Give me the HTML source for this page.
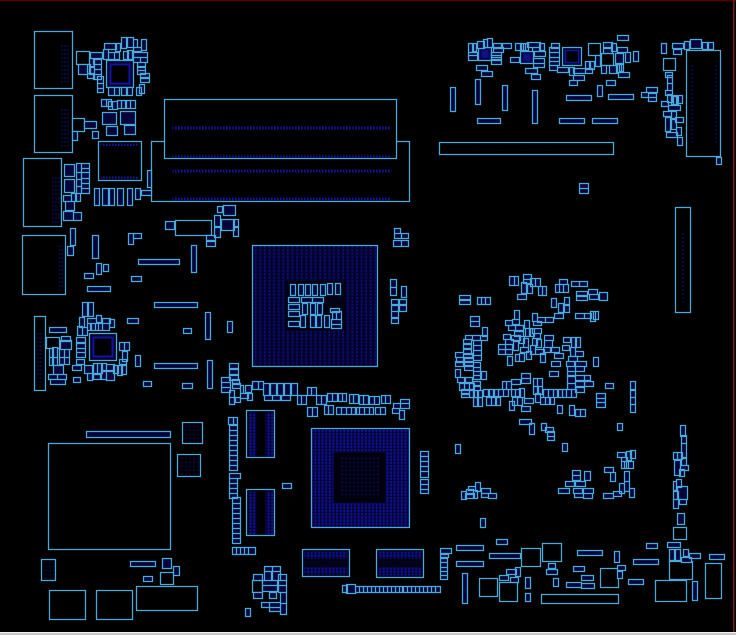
<!DOCTYPE html>
<html><head><meta charset="utf-8"><title>Board view</title>
<style>html,body{margin:0;padding:0;background:#000;width:736px;height:635px;overflow:hidden}svg{display:block}</style></head>
<body>
<svg width="736" height="635" viewBox="0 0 736 635" xmlns="http://www.w3.org/2000/svg" font-family="Liberation Sans, sans-serif">
<defs>
<pattern id="bga" width="4.6" height="3.4" patternUnits="userSpaceOnUse"><rect width="4.6" height="3.4" fill="#03032c"/><rect x="1.4" y=".6" width="1.6" height="2.2" fill="#0e0e80"/></pattern>
<pattern id="bga2" width="3.6" height="3.2" patternUnits="userSpaceOnUse"><rect width="3.6" height="3.2" fill="#040438"/><rect x=".8" y=".5" width="1.8" height="2.2" fill="#12129c"/></pattern>
<pattern id="bga3" width="4" height="4" patternUnits="userSpaceOnUse"><rect x="1" y="1" width="1.2" height="2" fill="#0c0c66"/></pattern>
<pattern id="rowp" width="3" height="2" patternUnits="userSpaceOnUse"><rect x=".5" y="0" width="1.6" height="2" fill="#12129a"/></pattern>
<pattern id="colp" width="3" height="4" patternUnits="userSpaceOnUse"><rect x="1" y=".5" width="1" height="2" fill="#0c0c70"/></pattern>
</defs>
<rect width="736" height="635" fill="#000"/>
<g transform="translate(.5 .5)" stroke="#4caad8" stroke-width="1.25" fill="#000">
<!-- large outlines -->
<path d="M34 31h38v57h-38zM34 95h38v57h-38zM23 158h38v68h-38zM22 235h43v59h-43zM34 316h11v74h-11zM98 141h43v39h-43zM48 443h122v106h-122zM151 141h258v60h-258z"/>
<path d="M164 99h232v59h-232zM686 50h34v106h-34zM439 142h174v12h-174zM675 207h15v105h-15zM175 220h36v15h-36zM49 590h36v29h-36zM96 590h36v29h-36zM136 586h61v24h-61zM182 422h20v21h-20zM177 454h23v22h-23zM705 563h16v35h-16zM655 580h31v21h-31zM669 561h23v18h-23zM541 594h77v9h-77zM479 578h18v18h-18zM499 582h18v19h-18zM521 548h19v18h-19zM542 543h19v18h-19zM600 568h18v19h-18zM663 58h12v12h-12zM673 527h13v12h-13zM588 43h12v12h-12zM601 53h12v12h-12zM41 559h14v21h-14zM252 580h10v12h-10zM327 295h12v12h-12zM72 118h12v13h-12zM160 572h13v12h-13zM46 337h13v11h-13zM76 51h13v13h-13z"/>
<g stroke="none">
<rect x="172" y="126" width="218" height="3" fill="url(#rowp)"/><rect x="172" y="155" width="218" height="2.5" fill="url(#rowp)"/><rect x="172" y="169" width="218" height="3" fill="url(#rowp)"/><rect x="172" y="197" width="218" height="3" fill="url(#rowp)"/>
<rect x="60" y="44" width="9" height="40" fill="url(#colp)"/><rect x="60" y="108" width="9" height="40" fill="url(#colp)"/><rect x="50" y="175" width="9" height="48" fill="url(#colp)"/><rect x="56" y="245" width="7" height="45" fill="url(#colp)"/><rect x="36" y="332" width="7" height="50" fill="url(#colp)"/>
<rect x="100" y="143" width="38" height="2.5" fill="url(#rowp)"/><rect x="100" y="176" width="38" height="2.5" fill="url(#rowp)"/>
<rect x="689" y="62" width="3" height="80" fill="url(#colp)"/><rect x="714" y="62" width="3" height="80" fill="url(#colp)"/><rect x="680" y="230" width="3" height="72" fill="url(#colp)"/>
<rect x="468" y="150" width="95" height="2" fill="url(#colp)"/>
<rect x="183" y="424" width="18" height="18" fill="url(#bga3)"/><rect x="178" y="456" width="21" height="19" fill="url(#bga3)"/><rect x="42" y="561" width="12" height="18" fill="url(#bga3)"/>
</g>
<!-- CPU socket -->
<rect x="252" y="245" width="125" height="121" fill="url(#bga)"/>
<rect x="285" y="280" width="60" height="50" fill="#020214" stroke="none"/>
<!-- GPU -->
<rect x="311" y="428" width="98" height="99" fill="url(#bga2)"/>
<rect x="333" y="452" width="52" height="50" fill="#01010d" stroke="none"/>
<rect x="339" y="457" width="41" height="40" fill="url(#bga3)" stroke="none"/>
<!-- memory chips -->
<rect x="246" y="410" width="28" height="47" fill="#000"/><rect x="248" y="412" width="8" height="44" fill="url(#bga2)" stroke="none"/><rect x="265" y="412" width="8" height="44" fill="url(#bga2)" stroke="none"/>
<rect x="246" y="489" width="28" height="46" fill="#000"/><rect x="248" y="491" width="8" height="43" fill="url(#bga2)" stroke="none"/><rect x="265" y="491" width="8" height="43" fill="url(#bga2)" stroke="none"/>
<rect x="302" y="549" width="47" height="27" fill="#020218"/><rect x="304" y="551" width="43" height="7" fill="url(#bga2)" stroke="none"/><rect x="304" y="567" width="43" height="7" fill="url(#bga2)" stroke="none"/>
<rect x="376" y="549" width="47" height="28" fill="#020218"/><rect x="378" y="551" width="43" height="7" fill="url(#bga2)" stroke="none"/><rect x="378" y="567" width="43" height="8" fill="url(#bga2)" stroke="none"/>
<!-- small ICs -->
<rect x="106" y="60" width="27" height="27" fill="#04042c"/><rect x="110" y="64" width="19" height="19" fill="#000" stroke="#1212a0" stroke-width="2"/>
<rect x="89" y="333" width="27" height="27" fill="#04042c"/><rect x="93" y="337" width="19" height="19" fill="#000" stroke="#1212a0" stroke-width="2"/>
<rect x="562" y="47" width="19" height="18" fill="#04042c"/><rect x="565" y="50" width="13" height="12" fill="#000" stroke="#1212a0" stroke-width="1.5"/>
<rect x="478" y="47" width="13" height="13" fill="#06064c"/><rect x="481" y="50" width="7" height="7" fill="#10108a" stroke="none"/>
<rect x="520" y="51" width="13" height="12" fill="#06064c"/><rect x="523" y="54" width="7" height="6" fill="#10108a" stroke="none"/>
<!-- small parts -->
<path fill="#05053c" d="M78 64h9v10h-9zM87 64h3v9h-3zM104 43h12v6h-12zM121 37h5v11h-5zM127 37h6v10h-6zM133 39h4v8h-4zM141 39h5v11h-5zM90 52h12v6h-12zM103 49h5v10h-5zM108 52h6v7h-6zM114 52h5v7h-5zM115 43h5v8h-5zM123 51h5v8h-5zM127 50h5v9h-5zM133 47h8v4h-8zM133 52h14v5h-14zM133 57h7v5h-7zM140 57h7v5h-7zM137 62h8v5h-8zM137 66h8v4h-8zM137 70h8v4h-8zM140 73h9v5h-9zM140 77h9v5h-9zM139 84h5v9h-5zM136 87h5v8h-5zM89 58h5v8h-5zM93 59h8v5h-8zM89 67h5v7h-5zM94 64h7v5h-7zM94 69h7v5h-7zM87 73h7v5h-7zM93 74h8v5h-8zM97 76h6v7h-6zM97 83h6v5h-6zM97 88h6v4h-6zM108 87h6v8h-6zM114 87h5v8h-5zM121 87h5v8h-5zM127 87h5v8h-5z"/>
<path fill="#05053c" d="M101 99h5v7h-5zM106 99h5v7h-5zM108 101h4v8h-4zM112 101h5v8h-5zM117 100h4v8h-4zM121 100h5v8h-5zM125 100h5v8h-5zM130 100h5v8h-5zM102 112h14v12h-14zM120 111h15v13h-15zM106 126h11v9h-11zM124 125h11v9h-11zM84 121h12v7h-12zM72 131h5v9h-5zM92 131h6v7h-6zM64 164h10v12h-10zM64 179h10v13h-10zM76 163h5v9h-5zM81 163h8v5h-8zM76 172h5v7h-5zM81 168h8v4h-8zM81 172h8v6h-8zM76 179h5v7h-5zM81 178h8v5h-8zM81 183h8v5h-8zM76 186h5v7h-5zM81 188h8v5h-8zM63 195h8v6h-8zM71 193h5v8h-5zM75 193h5v8h-5zM65 201h9v9h-9zM63 211h10v9h-10zM73 212h8v8h-8zM94 188h5v17h-5zM102 188h6v17h-6zM109 188h5v17h-5zM117 188h6v17h-6zM127 188h5v17h-5zM135 188h5v11h-5zM141 190h10v5h-10zM147 170h4v17h-4z"/>
<path fill="#05053c" d="M70 228h5v17h-5zM67 246h6v9h-6zM92 235h6v23h-6zM96 263h5v11h-5zM103 264h5v7h-5zM84 273h9v5h-9zM87 286h23v5h-23zM82 302h5v14h-5zM88 302h5v14h-5zM79 317h5v10h-5zM87 318h9v5h-9zM96 315h5v7h-5zM102 318h8v5h-8zM109 319h5v8h-5zM77 326h5v9h-5zM82 327h5v8h-5zM87 323h4v7h-4zM90 323h5v7h-5zM95 323h3v7h-3zM98 323h4v7h-4zM102 323h7v7h-7zM49 327h17v5h-17zM61 336h9v5h-9zM60 340h11v9h-11zM76 337h9v5h-9zM76 343h9v5h-9zM76 348h9v4h-9zM76 352h9v5h-9zM119 342h5v8h-5zM124 342h5v8h-5zM122 351h5v10h-5zM49 348h4v9h-4zM52 347h5v10h-5zM59 349h5v8h-5zM64 349h5v8h-5zM49 357h4v8h-4zM52 357h5v8h-5zM59 357h5v7h-5zM64 357h5v7h-5zM53 365h10v9h-10zM48 374h9v5h-9zM57 374h9v5h-9zM50 379h15v5h-15zM76 359h8v5h-8zM72 365h9v5h-9zM84 365h8v8h-8zM93 363h4v10h-4zM97 363h5v10h-5zM101 363h5v7h-5zM106 364h8v6h-8zM87 373h5v7h-5zM93 374h7v5h-7zM101 371h5v8h-5zM106 371h8v9h-8zM113 365h5v8h-5zM117 365h5v10h-5zM121 365h5v9h-5zM119 359h7v5h-7zM73 377h7v5h-7zM127 318h11v5h-11zM135 355h5v11h-5zM143 381h8v5h-8zM182 383h10v5h-10zM183 328h8v5h-8zM227 321h5v11h-5zM205 312h5v27h-5zM207 360h5v28h-5zM154 302h43v5h-43zM154 363h43v5h-43zM138 259h41v5h-41zM191 245h5v27h-5zM131 276h10v5h-10zM128 233h5v11h-5zM133 233h8v5h-8zM165 221h9v8h-9zM206 235h9v5h-9zM206 241h9v5h-9zM214 215h6v11h-6zM214 227h6v10h-6zM221 219h13v11h-13zM233 219h5v7h-5zM233 227h5v9h-5zM223 205h12v10h-12zM217 206h5v6h-5zM229 363h9v5h-9zM229 369h9v5h-9zM229 375h9v5h-9zM221 377h9v5h-9zM221 382h9v5h-9zM221 387h9v5h-9zM232 379h7v5h-7zM232 383h8v5h-8zM229 390h5v7h-5zM229 397h5v7h-5zM235 397h5v5h-5z"/>
<path fill="#05053c" d="M86 431h84v6h-84zM162 558h9v10h-9zM173 566h6v9h-6zM130 561h25v5h-25zM143 576h9v5h-9z"/>
<path fill="#05053c" d="M228 417h5v7h-5zM233 417h4v7h-4zM229 425h8v5h-8zM229 430h8v5h-8zM229 435h8v5h-8zM229 440h8v5h-8zM229 445h8v5h-8zM229 450h8v5h-8zM229 455h8v5h-8zM229 460h8v5h-8zM229 465h8v5h-8zM229 473h11v5h-11zM229 478h8v5h-8zM229 483h8v5h-8zM229 488h8v5h-8zM229 493h8v5h-8zM232 497h8v6h-8zM232 503h8v5h-8zM232 508h8v5h-8zM232 513h8v5h-8zM232 518h8v5h-8zM232 523h8v5h-8zM232 528h8v5h-8zM232 533h8v5h-8zM232 538h8v5h-8zM232 547h4v7h-4zM236 547h4v7h-4zM240 547h4v7h-4zM244 547h4v7h-4zM248 547h7v7h-7z"/>
<path fill="#05053c" d="M264 566h8v5h-8zM272 566h8v5h-8zM253 574h9v6h-9zM264 571h7v9h-7zM272 571h8v9h-8zM278 574h8v6h-8zM262 580h15v5h-15zM262 585h15v6h-15zM278 580h8v5h-8zM278 585h8v7h-8zM253 592h9v6h-9zM269 592h7v6h-7zM280 592h6v11h-6zM280 603h6v11h-6zM261 602h8v5h-8zM269 602h11v5h-11zM269 607h11v4h-11zM245 608h5v8h-5zM282 483h9v5h-9zM420 451h8v5h-8zM420 456h8v5h-8zM420 461h8v5h-8zM420 466h8v5h-8zM420 471h8v6h-8zM420 479h8v5h-8zM420 484h8v5h-8zM420 489h8v4h-8z"/>
<path fill="#05053c" d="M342 585h5v7h-5zM346 584h9v9h-9zM355 586h4v6h-4zM359 586h4v6h-4zM363 586h4v6h-4zM367 586h4v6h-4zM371 586h4v6h-4zM375 586h4v6h-4zM379 586h4v6h-4zM383 586h4v6h-4zM387 586h4v6h-4zM391 586h4v6h-4zM395 586h4v6h-4zM399 586h3v6h-3zM403 586h4v6h-4zM407 586h4v6h-4zM411 586h4v6h-4zM415 586h4v6h-4zM419 586h4v6h-4zM423 586h4v6h-4zM427 586h4v6h-4zM431 586h4v6h-4zM435 586h5v6h-5z"/>
<path fill="#05053c" d="M252 381h6v8h-6zM258 381h5v8h-5zM263 383h6v12h-6zM270 383h6v12h-6zM277 383h6v12h-6zM284 383h6v12h-6zM291 383h6v12h-6zM264 395h8v5h-8zM272 395h8v5h-8zM281 395h9v5h-9zM297 395h4v9h-4zM301 395h5v9h-5zM307 387h4v8h-4zM311 387h5v8h-5zM316 395h5v9h-5zM321 395h5v9h-5zM327 393h5v8h-5zM332 393h5v8h-5zM338 393h4v8h-4zM342 393h4v8h-4zM349 394h4v9h-4zM353 394h5v9h-5zM359 395h4v9h-4zM363 395h5v9h-5zM369 396h5v8h-5zM374 396h5v8h-5zM381 395h4v8h-4zM385 395h5v8h-5zM307 407h5v9h-5zM312 407h5v9h-5zM324 405h4v9h-4zM328 405h5v9h-5zM336 407h5v7h-5zM341 407h5v7h-5zM346 407h5v7h-5zM351 407h5v7h-5zM355 407h4v7h-4zM359 407h5v7h-5zM364 407h5v7h-5zM369 407h4v7h-4zM375 407h5v7h-5zM380 407h5v7h-5zM400 399h9v4h-9zM400 403h9v5h-9zM393 403h7v5h-7zM392 408h7v5h-7zM399 410h5v9h-5zM245 385h6v7h-6zM240 393h8v5h-8zM247 393h5v7h-5zM240 385h3v8h-3z"/>
<path fill="#05053c" d="M290 284h5v11h-5zM298 284h5v11h-5zM305 284h5v11h-5zM312 284h5v11h-5zM320 284h5v11h-5zM327 283h5v11h-5zM335 283h5v11h-5zM288 297h11v5h-11zM288 304h11v5h-11zM288 311h11v5h-11zM288 321h11v5h-11zM301 297h11v5h-11zM312 297h11v5h-11zM330 308h9v4h-9zM302 303h5v11h-5zM310 303h5v11h-5zM317 303h5v11h-5zM332 311h4v8h-4zM336 311h5v8h-5zM300 315h5v12h-5zM310 315h5v12h-5zM316 315h5v12h-5zM324 315h5v12h-5zM331 319h10v5h-10zM331 324h10v4h-10zM394 228h6v5h-6zM394 233h7v5h-7zM401 233h7v5h-7zM393 240h8v6h-8zM401 240h7v6h-7zM390 279h6v8h-6zM390 287h6v8h-6zM401 286h5v11h-5zM391 299h7v5h-7zM399 299h7v5h-7zM391 305h7v6h-7zM399 305h7v6h-7zM391 311h7v7h-7zM391 317h7v6h-7z"/>
<path fill="#05053c" d="M509 276h5v9h-5zM514 276h4v9h-4zM523 274h8v5h-8zM523 279h8v4h-8zM521 282h5v11h-5zM527 284h5v9h-5zM530 278h5v8h-5zM535 278h5v8h-5zM538 286h4v9h-4zM542 286h4v9h-4zM517 294h9v5h-9zM559 279h8v5h-8zM555 284h4v8h-4zM559 284h4v8h-4zM563 284h5v8h-5zM571 281h8v5h-8zM579 281h8v5h-8zM576 291h11v5h-11zM576 295h11v5h-11zM588 289h9v5h-9zM589 294h9v5h-9zM599 292h8v8h-8zM459 295h11v5h-11zM459 299h11v5h-11zM477 297h4v7h-4zM481 297h4v7h-4zM485 297h5v7h-5zM551 298h5v9h-5zM564 297h5v8h-5zM564 304h5v8h-5zM558 303h5v9h-5zM575 313h9v5h-9zM584 313h7v5h-7zM590 311h5v10h-5zM593 311h5v8h-5zM470 316h9v5h-9zM470 321h9v5h-9zM482 327h5v9h-5zM480 335h7v5h-7zM465 335h7v5h-7zM472 335h8v5h-8zM514 310h5v9h-5zM505 320h7v5h-7zM512 319h7v5h-7zM508 325h7v5h-7zM515 325h8v5h-8zM514 331h9v5h-9zM511 335h9v5h-9zM503 334h7v5h-7zM505 339h8v5h-8zM519 336h5v7h-5zM513 341h5v9h-5zM523 338h5v9h-5zM524 320h5v8h-5zM525 328h5v8h-5zM529 328h5v8h-5zM532 313h5v8h-5zM533 321h8v4h-8zM537 317h8v5h-8zM545 317h8v5h-8zM554 313h9v5h-9zM532 328h9v5h-9zM533 333h7v5h-7zM532 338h5v7h-5zM536 339h5v8h-5zM544 335h9v5h-9zM544 340h8v7h-8zM498 344h7v5h-7zM505 344h7v5h-7zM498 349h7v5h-7zM505 349h7v5h-7zM520 347h8v5h-8zM530 345h5v9h-5zM535 349h9v5h-9zM543 347h7v5h-7zM551 347h8v5h-8zM526 351h5v8h-5zM515 354h4v7h-4zM519 353h5v8h-5zM507 356h5v9h-5zM540 353h5v9h-5zM554 353h9v5h-9zM551 361h9v5h-9zM563 337h7v5h-7zM562 345h7v5h-7zM571 337h5v10h-5zM575 337h5v10h-5zM570 347h5v9h-5zM575 351h8v5h-8zM549 371h9v5h-9zM521 373h9v5h-9zM521 378h9v5h-9zM511 379h9v5h-9zM593 357h5v9h-5zM583 375h7v5h-7zM584 381h9v5h-9zM605 383h8v5h-8z"/>
<path fill="#05053c" d="M568 356h9v5h-9zM566 361h8v5h-8zM575 361h11v5h-11zM567 366h8v5h-8zM575 366h9v5h-9zM567 371h8v5h-8zM567 375h8v8h-8zM575 375h9v5h-9zM567 383h8v6h-8zM575 381h9v5h-9zM575 387h9v5h-9zM483 389h5v7h-5zM489 389h5v7h-5zM493 389h5v7h-5zM498 389h5v7h-5zM503 389h5v7h-5zM502 381h4v8h-4zM506 381h5v8h-5zM511 389h4v7h-4zM515 389h5v7h-5zM519 388h5v9h-5zM543 389h5v8h-5zM548 389h5v8h-5zM553 389h5v8h-5zM557 389h5v8h-5zM562 389h4v8h-4zM566 389h5v8h-5zM571 389h5v8h-5zM533 378h4v8h-4zM537 378h5v8h-5zM533 386h5v8h-5zM537 386h5v8h-5zM535 393h5v9h-5zM540 397h5v7h-5zM545 397h5v7h-5zM549 397h5v7h-5zM486 397h5v8h-5zM491 397h5v8h-5zM495 397h5v8h-5zM473 397h5v9h-5zM477 397h5v9h-5zM512 397h5v8h-5zM517 397h5v8h-5zM509 401h5v9h-5zM524 398h9v5h-9zM521 406h9v5h-9zM557 405h5v8h-5zM569 405h5v10h-5zM575 409h5v7h-5zM580 409h5v7h-5zM596 393h9v5h-9zM596 398h9v4h-9zM596 402h9v5h-9zM630 381h5v9h-5zM630 389h5v8h-5zM630 397h5v7h-5zM630 404h5v8h-5z"/>
<path fill="#05053c" d="M473 340h8v5h-8zM473 345h8v5h-8zM473 350h8v5h-8zM473 355h8v5h-8zM463 339h8v5h-8zM463 343h8v5h-8zM463 349h8v5h-8zM463 353h9v5h-9zM455 352h8v5h-8zM456 357h7v5h-7zM455 361h8v5h-8zM464 357h9v5h-9zM464 361h9v5h-9zM464 365h9v5h-9zM473 362h7v5h-7zM473 367h7v4h-7zM473 371h7v4h-7zM473 375h7v4h-7zM455 369h5v8h-5zM481 371h5v8h-5zM457 377h7v5h-7zM465 377h7v5h-7zM459 383h5v7h-5zM464 383h5v7h-5zM469 383h5v7h-5zM473 381h7v5h-7zM473 385h7v5h-7zM461 389h8v5h-8zM461 393h8v4h-8zM469 389h5v8h-5zM473 390h5v7h-5zM477 390h5v7h-5z"/>
<path fill="#05053c" d="M468 43h5v9h-5zM472 43h4v8h-4zM477 41h7v7h-7zM483 39h4v8h-4zM487 38h5v9h-5zM493 43h8v5h-8zM502 43h9v5h-9zM493 47h10v5h-10zM468 52h9v3h-9zM468 55h9v5h-9zM491 52h10v5h-10zM491 55h10v5h-10zM491 59h10v5h-10zM476 65h11v5h-11zM481 71h11v5h-11zM510 57h9v5h-9zM515 43h5v7h-5zM521 43h4v7h-4zM523 43h5v7h-5zM527 42h13v5h-13zM532 47h8v4h-8zM539 43h5v7h-5zM534 51h11v5h-11zM533 58h11v5h-11zM533 63h11v4h-11zM525 68h12v5h-12zM531 74h9v5h-9zM551 43h8v5h-8zM549 47h10v5h-10zM549 52h10v5h-10zM549 57h10v4h-10zM549 61h10v4h-10zM549 65h8v5h-8zM557 67h11v5h-11zM569 67h5v8h-5zM573 68h12v5h-12zM585 68h7v5h-7zM585 61h5v8h-5zM589 61h5v8h-5zM573 75h11v5h-11zM569 80h8v5h-8zM603 42h9v5h-9zM603 48h9v5h-9zM611 43h5v8h-5zM617 47h10v5h-10zM617 35h11v5h-11zM595 55h5v11h-5zM615 53h8v11h-8zM625 52h5v10h-5zM633 51h5v10h-5zM601 65h5v8h-5zM609 65h8v8h-8zM616 63h5v9h-5zM619 63h4v8h-4zM618 72h11v5h-11zM606 80h9v5h-9zM597 85h5v11h-5zM450 87h5v24h-5zM475 79h5v25h-5zM502 85h5v25h-5zM532 90h5v33h-5zM566 95h25v5h-25zM608 94h25v5h-25zM477 118h23v5h-23zM559 118h25v5h-25zM592 118h25v5h-25zM641 92h7v5h-7zM646 87h11v5h-11zM648 93h8v4h-8zM648 97h8v4h-8zM579 183h9v5h-9zM579 188h9v5h-9z"/>
<path fill="#05053c" d="M661 43h5v10h-5zM672 43h11v5h-11zM673 49h8v5h-8zM684 41h5v8h-5zM690 39h11v9h-11zM702 42h5v7h-5zM708 42h5v7h-5zM665 72h7v5h-7zM667 75h5v8h-5zM667 83h5v7h-5zM665 90h7v5h-7zM667 94h5v8h-5zM661 101h7v5h-7zM671 96h5v8h-5zM673 95h5v9h-5zM677 95h5v8h-5zM668 105h12v5h-12zM663 111h8v5h-8zM671 111h5v7h-5zM675 117h8v5h-8zM665 117h5v14h-5zM671 119h5v10h-5zM676 127h5v8h-5zM666 132h11v5h-11zM677 137h5v8h-5zM716 157h5v7h-5z"/>
<path fill="#05053c" d="M455 444h5v9h-5zM480 518h5v9h-5zM519 419h12v5h-12zM529 423h5v11h-5zM541 423h5v7h-5zM545 427h8v5h-8zM547 431h7v5h-7zM547 436h7v4h-7zM617 423h5v7h-5zM562 443h5v8h-5zM461 491h5v8h-5zM466 489h7v5h-7zM465 493h9v5h-9zM468 486h7v4h-7zM473 490h4v8h-4zM475 482h5v9h-5zM481 488h9v5h-9zM481 493h7v4h-7zM488 493h8v5h-8zM572 470h8v5h-8zM572 475h8v5h-8zM584 471h6v9h-6zM565 481h9v5h-9zM575 481h10v5h-10zM558 488h11v5h-11zM573 488h9v5h-9zM583 488h10v5h-10zM574 493h9v4h-9zM583 493h9v5h-9zM604 467h9v5h-9zM610 472h5v9h-5zM617 452h8v5h-8zM626 451h5v9h-5zM630 450h5v8h-5zM621 457h6v4h-6zM621 461h5v7h-5zM624 461h4v7h-4zM628 461h5v7h-5zM624 471h5v10h-5zM624 481h5v10h-5zM619 483h5v10h-5zM629 488h5v9h-5zM613 491h8v5h-8zM603 493h10v5h-10z"/>
<path fill="#05053c" d="M680 425h5v11h-5zM681 435h5v8h-5zM681 443h5v14h-5zM673 452h8v7h-8zM677 452h5v7h-5zM681 458h5v7h-5zM674 460h6v15h-6zM680 465h8v5h-8zM679 469h5v7h-5zM676 479h5v8h-5zM673 481h3v9h-3zM677 486h10v13h-10zM673 491h5v8h-5zM679 499h7v5h-7zM673 499h5v9h-5zM677 513h7v11h-7zM496 539h11v5h-11zM440 548h11v5h-11zM440 554h8v3h-8zM440 558h7v4h-7zM440 562h7v5h-7zM440 567h7v4h-7zM440 571h7v4h-7zM440 575h7v4h-7zM456 545h27v5h-27zM456 561h27v5h-27zM489 553h31v5h-31zM577 550h25v5h-25zM614 551h5v11h-5zM646 543h11v5h-11zM633 559h25v5h-25zM667 542h13v5h-13zM669 549h5v11h-5zM675 549h5v11h-5zM683 549h5v7h-5zM689 553h11v5h-11zM681 557h10v5h-10zM709 554h15v5h-15zM692 581h5v19h-5zM462 573h5v30h-5zM499 575h9v5h-9zM506 569h10v5h-10zM515 567h5v9h-5zM510 577h8v5h-8zM525 577h5v11h-5zM525 593h5v8h-5zM548 563h7v5h-7zM546 569h11v5h-11zM553 578h5v8h-5zM573 566h11v5h-11zM581 575h12v5h-12zM566 582h15v5h-15zM581 583h13v5h-13zM617 565h8v5h-8zM617 571h5v7h-5zM628 579h15v5h-15z"/>
</g>
<!-- frame -->
<rect x="0" y="0" width="736" height="1.5" fill="#4a0606"/>
<rect x="733" y="0" width="1.5" height="632" fill="#7a1a1a"/>
<rect x="0" y="632" width="736" height="3" fill="#c9c9c9"/>
<rect x="0" y="632" width="736" height="1" fill="#f2f2f2"/>
</svg>
</body></html>
